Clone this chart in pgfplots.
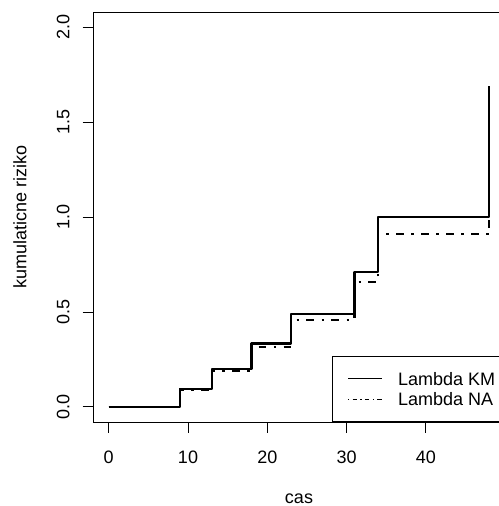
\documentclass[border=0pt]{standalone}
\usepackage{fontspec}
\setmainfont{Liberation Sans}
\usepackage{pgfplots}
\pgfplotsset{compat=1.18}
\newcommand{\rf}{\fontsize{18bp}{21.6bp}\selectfont}
\begin{document}
\begin{tikzpicture}
\useasboundingbox (0,0) rectangle (499bp,506bp);
\begin{axis}[
  at={(93.5bp,84bp)}, anchor=south west,
  scale only axis, width=411bp, height=410bp,
  xmin=-1.92, xmax=49.92, ymin=-0.08, ymax=2.08,
  axis line style={line width=0.8bp, black},
  xtick={0,10,20,30,40}, xticklabels={0,10,20,30,40},
  ytick={0,0.5,1,1.5,2}, yticklabels={0.0,0.5,1.0,1.5,2.0},
  tick pos=left, tick align=outside, major tick length=10.8bp,
  tick style={line width=0.8bp, black},
  xticklabel style={inner sep=0pt, anchor=base, font=\rf},
  xticklabel shift=30.7bp,
  yticklabel style={inner sep=0pt, rotate=90, anchor=base, font=\rf},
  yticklabel shift=13.2bp,
  xlabel={cas},
  xlabel style={at={([yshift=-81.5bp]axis description cs:0.5,0)}, anchor=base, inner sep=0pt, font=\rf},
  ylabel={kumulaticne riziko},
  ylabel style={at={([xshift=-67bp]axis description cs:0,0.5)}, anchor=base, inner sep=0pt, font=\rf},
  legend image code/.code={\path[draw=none,fill=none] (0bp,0bp) -- (57bp,0bp); \draw[#1] (7bp,0bp) -- (41bp,0bp);},
  legend style={at={(rel axis cs:1,0)}, anchor=south east, draw=black, line width=0.8bp,
    inner xsep=9bp, inner ysep=16bp, row sep=7.6bp, column sep=0pt,
    nodes={inner sep=0pt, text height=12.9bp, text depth=0pt},
    cells={anchor=west}, font=\rf},
  legend entries={Lambda KM, Lambda NA},
]
\addlegendimage{black, solid, line width=1.1bp}
\addlegendimage{black, line width=1.1bp, dash pattern=on 1.1bp off 3.4bp on 4.5bp off 3.4bp}
\addplot[forget plot, const plot, black, line width=2.25bp, line join=round]
  coordinates {(0,0) (9,0.0953) (13,0.2007) (18,0.3342) (23,0.4884) (31,0.7115) (34,0.9992) (48,1.6923)};
\addplot[forget plot, const plot, black, line width=2.25bp, dash pattern=on 2.3bp off 7.5bp on 7.5bp off 7.7bp]
  coordinates {(0,0) (9,0.0909) (13,0.1909) (18,0.3159) (23,0.4588) (31,0.6588) (34,0.9088) (48,1.4088)};
\end{axis}
\end{tikzpicture}
\end{document}
